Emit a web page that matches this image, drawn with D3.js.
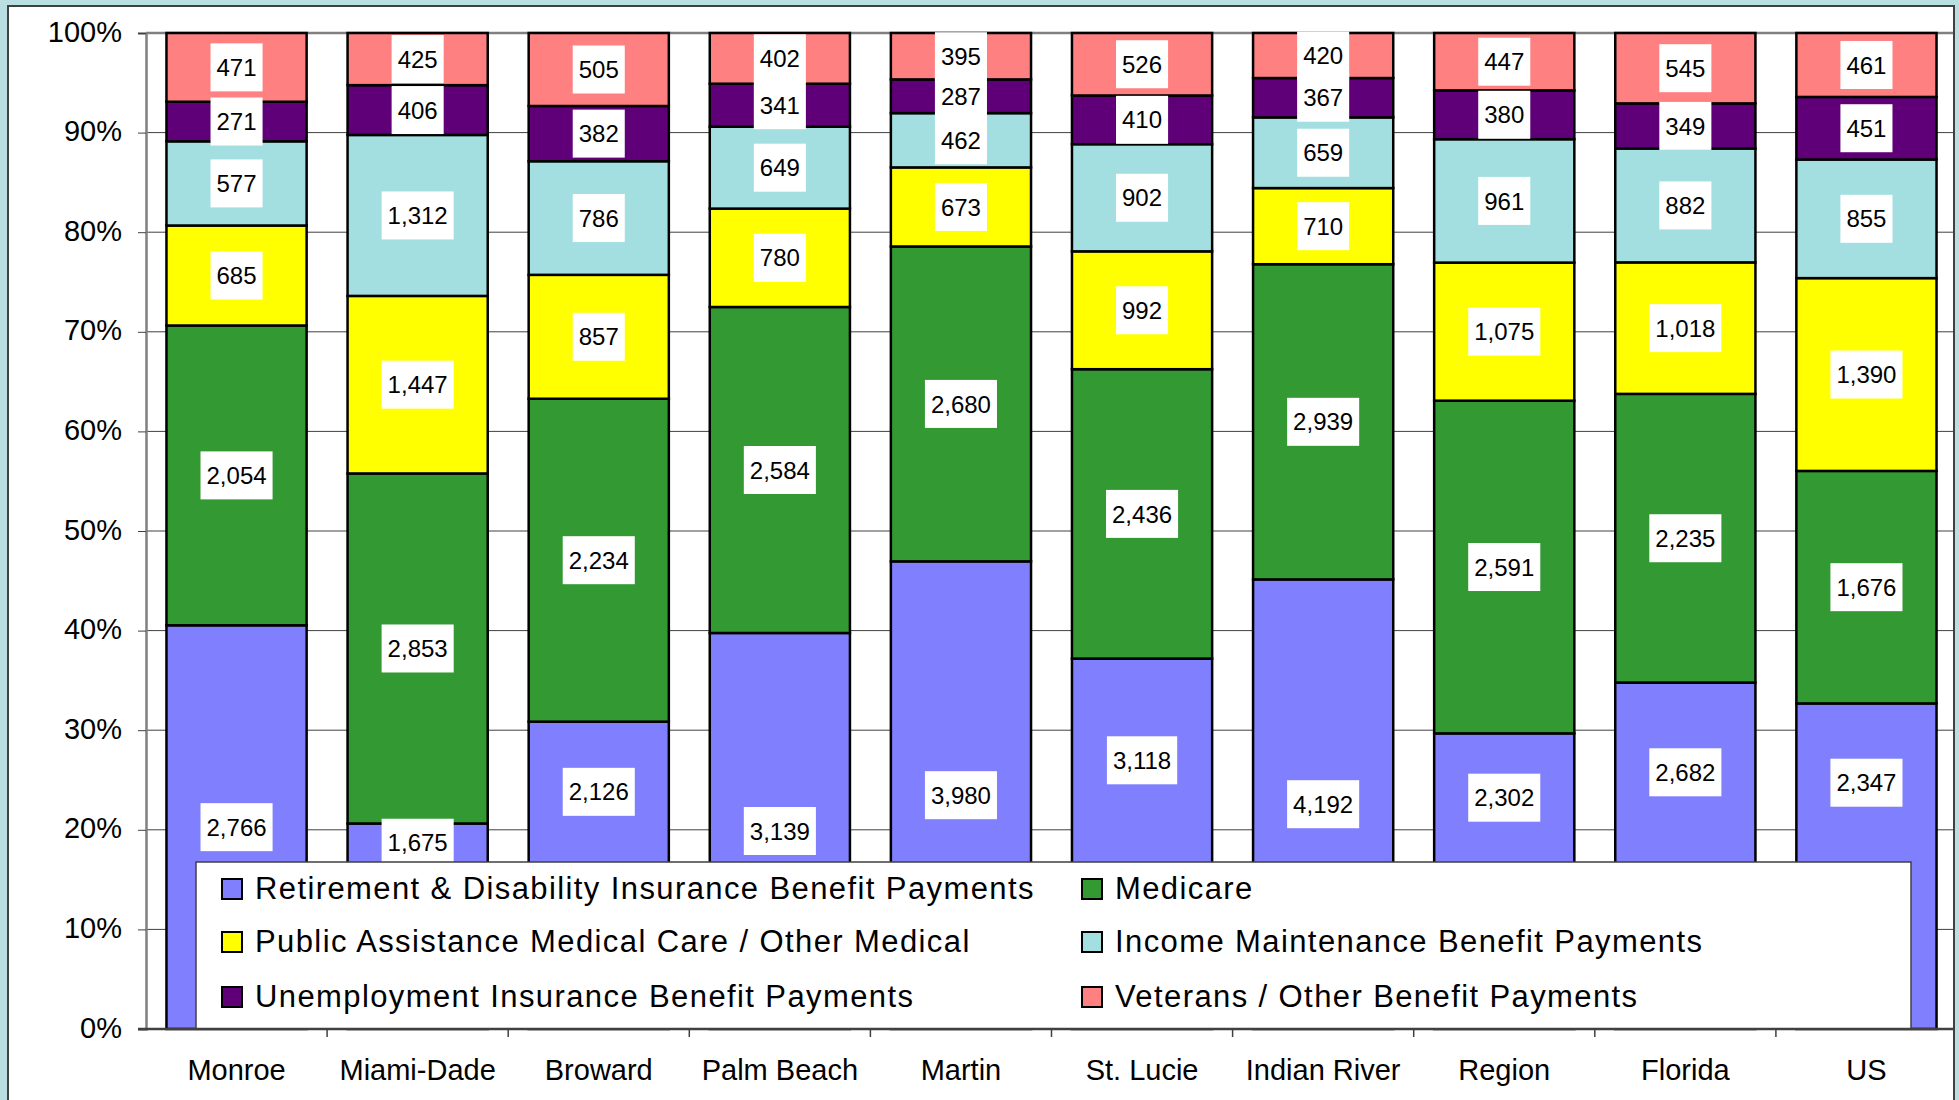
<!DOCTYPE html>
<html>
<head>
<meta charset="utf-8">
<title>Personal transfer receipts by type</title>
<script src="https://cdn.jsdelivr.net/npm/d3@7"></script>
<style>
body { margin: 0; background: #b9dfe3; }
svg { display: block; font-family: "Liberation Sans", Arial, sans-serif; }
.grid line { stroke: #404040; stroke-width: 1px; }
.bar rect { stroke: #000; stroke-width: 2.5px; }
.lbl rect { fill: #fff; }
.lbl text { font-size: 24px; fill: #000; text-anchor: middle; }
.legend text { font-size: 31px; letter-spacing: 1.4px; fill: #000; }
</style>
</head>
<body>
<script>

// data (values per capita, $)
var categories = ["Monroe", "Miami-Dade", "Broward", "Palm Beach", "Martin", "St. Lucie", "Indian River", "Region", "Florida", "US"];

var seriesNames = [
  "Retirement & Disability Insurance Benefit Payments",
  "Medicare",
  "Public Assistance Medical Care / Other Medical",
  "Income Maintenance Benefit Payments",
  "Unemployment Insurance Benefit Payments",
  "Veterans / Other Benefit Payments"
];

var retirement   = [2766, 1675, 2126, 3139, 3980, 3118, 4192, 2302, 2682, 2347];
var medicare     = [2054, 2853, 2234, 2584, 2680, 2436, 2939, 2591, 2235, 1676];
var publicAssist = [685, 1447, 857, 780, 673, 992, 710, 1075, 1018, 1390];
var incomeMaint  = [577, 1312, 786, 649, 462, 902, 659, 961, 882, 855];
var unemployment = [271, 406, 382, 341, 287, 410, 367, 380, 349, 451];
var veterans     = [471, 425, 505, 402, 395, 526, 420, 447, 545, 461];

var yTicks = [0, 0.1, 0.2, 0.3, 0.4, 0.5, 0.6, 0.7, 0.8, 0.9, 1];

var colors = ["#8080ff", "#339933", "#ffff00", "#a3dfe0", "#600078", "#ff8080"];

var seriesValues = [retirement, medicare, publicAssist, incomeMaint, unemployment, veterans];
var keys = d3.range(seriesNames.length);

var table = categories.map(function(c, i) {
  var row = {cat: c};
  keys.forEach(function(k) { row[k] = seriesValues[k][i]; });
  return row;
});

var stacked = d3.stack().keys(keys).offset(d3.stackOffsetExpand)(table);

var W = 1959, H = 1100;
var plot = {left: 146, right: 1957, top: 33, bottom: 1029};

var x = d3.scaleBand()
  .domain(categories)
  .range([plot.left, plot.right])
  .paddingInner(0.226)
  .paddingOuter(0.113);

var y = d3.scaleLinear()
  .domain([0, 1])
  .range([plot.bottom, plot.top]);

var svg = d3.select("body").append("svg")
  .attr("width", W)
  .attr("height", H);

// chart frame
svg.append("rect")
  .attr("x", 8).attr("y", 6)
  .attr("width", 1946).attr("height", H)
  .attr("fill", "#fff")
  .attr("stroke", "#404040")
  .attr("stroke-width", 2);

svg.append("clipPath").attr("id", "frame")
  .append("rect").attr("x", 9).attr("y", 7).attr("width", 1944).attr("height", H);

var g = svg.append("g").attr("clip-path", "url(#frame)");

// gridlines
g.append("g").attr("class", "grid")
  .selectAll("line")
  .data(yTicks.slice(1, -1))
  .enter().append("line")
  .attr("x1", plot.left).attr("x2", plot.right)
  .attr("y1", function(d) { return y(d); })
  .attr("y2", function(d) { return y(d); });

// plot top border
g.append("line")
  .attr("x1", plot.left).attr("x2", plot.right)
  .attr("y1", y(1)).attr("y2", y(1))
  .attr("stroke", "#808080").attr("stroke-width", 2.5);

// bars
var layer = g.selectAll(".bar")
  .data(stacked)
  .enter().append("g")
  .attr("class", "bar")
  .attr("fill", function(d) { return colors[d.key]; });

layer.selectAll("rect")
  .data(function(d) { return d; })
  .enter().append("rect")
  .attr("x", function(d) { return x(d.data.cat); })
  .attr("width", x.bandwidth())
  .attr("y", function(d) { return y(d[1]); })
  .attr("height", function(d) { return y(d[0]) - y(d[1]); });

// legend geometry
var legendBox = {x: 196, y: 862, w: 1715, h: plot.bottom - 862};

// data labels
var fmt = d3.format(",");
var boxH = 48, padX = 6;
var labels = g.append("g");

stacked.forEach(function(s) {
  s.forEach(function(d, i) {
    var top = y(d[1]), bot = y(d[0]);
    var cy = (top + bot) / 2;
    // bottom labels that would sit behind the legend move up into the visible part
    if (cy + boxH / 2 > legendBox.y) cy = (top + Math.min(bot, legendBox.y)) / 2;
    var cx = x(d.data.cat) + x.bandwidth() / 2;
    var lg = labels.append("g").attr("class", "lbl");
    var t = lg.append("text")
      .attr("x", cx).attr("y", cy)
      .attr("dy", "0.36em")
      .text(fmt(seriesValues[s.key][i]));
    var w = t.node().getComputedTextLength() + padX * 2;
    lg.insert("rect", "text")
      .attr("x", cx - w / 2).attr("y", cy - boxH / 2)
      .attr("width", w).attr("height", boxH);
  });
});

// legend
var legend = g.append("g").attr("class", "legend");
legend.append("rect")
  .attr("x", legendBox.x).attr("y", legendBox.y)
  .attr("width", legendBox.w).attr("height", legendBox.h)
  .attr("fill", "#fff").attr("stroke", "#404040").attr("stroke-width", 1.5);

var colX = [222, 1082], rowY = [889, 942, 997];
var item = legend.selectAll(".item")
  .data(keys)
  .enter().append("g")
  .attr("class", "item")
  .attr("transform", function(k) { return "translate(" + colX[k % 2] + "," + rowY[Math.floor(k / 2)] + ")"; });

item.append("rect")
  .attr("x", 0).attr("y", -10)
  .attr("width", 20).attr("height", 20)
  .attr("fill", function(k) { return colors[k]; })
  .attr("stroke", "#000").attr("stroke-width", 2);

item.append("text")
  .attr("x", 33).attr("y", 10)
  .text(function(k) { return seriesNames[k]; });

// y axis
var yAxis = svg.append("g")
  .attr("transform", "translate(" + plot.left + ",0)")
  .call(d3.axisLeft(y).tickValues(yTicks).tickFormat(d3.format(".0%")).tickSize(8).tickPadding(16));
yAxis.select(".domain").attr("stroke", "#808080").attr("stroke-width", 2.5);
yAxis.selectAll(".tick line").attr("stroke", "#404040");
yAxis.selectAll("text").attr("font-size", 29).attr("font-family", "Liberation Sans, Arial, sans-serif").attr("fill", "#000").attr("dy", "0.28em");

// x axis
svg.append("line")
  .attr("x1", plot.left - 8).attr("x2", 1954)
  .attr("y1", plot.bottom).attr("y2", plot.bottom)
  .attr("stroke", "#404040").attr("stroke-width", 2.5);

var gap = (x.step() - x.bandwidth()) / 2;
svg.append("g").selectAll("line")
  .data(categories.slice(1))
  .enter().append("line")
  .attr("x1", function(c) { return x(c) - gap; })
  .attr("x2", function(c) { return x(c) - gap; })
  .attr("y1", plot.bottom).attr("y2", plot.bottom + 8)
  .attr("stroke", "#404040").attr("stroke-width", 1.5);

svg.append("g").selectAll("text")
  .data(categories)
  .enter().append("text")
  .attr("x", function(c) { return x(c) + x.bandwidth() / 2; })
  .attr("y", 1080)
  .attr("text-anchor", "middle")
  .attr("font-size", 29)
  .text(function(c) { return c; });

</script>
</body>
</html>
